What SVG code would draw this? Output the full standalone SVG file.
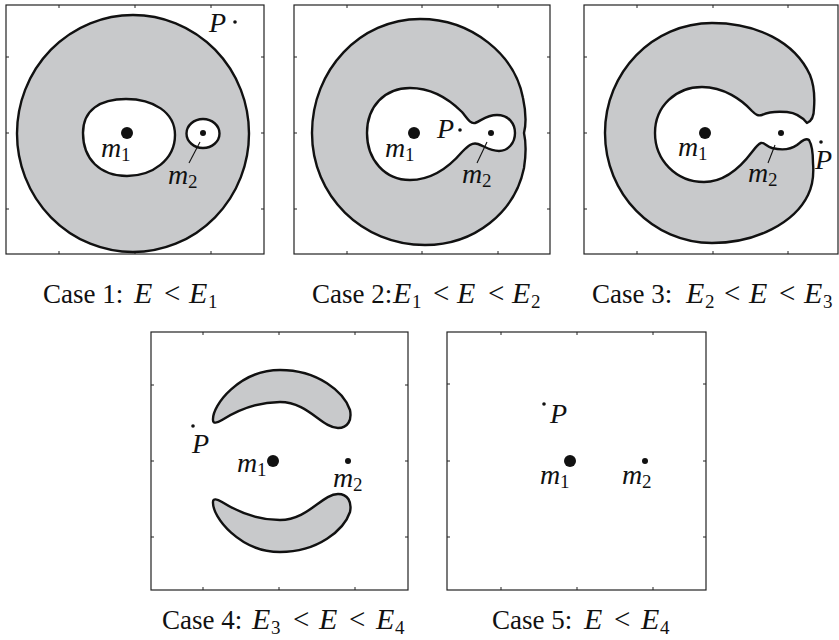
<svg xmlns="http://www.w3.org/2000/svg" width="839" height="640" viewBox="0 0 839 640" font-family="'Liberation Serif', 'DejaVu Serif', serif">
<style>
.box{fill:none;stroke:#222;stroke-width:1.2}
.tick{fill:none;stroke:#222;stroke-width:1}
.reg{fill:#c8c9cb;stroke:#111;stroke-width:2.4;stroke-linejoin:round;fill-rule:evenodd}
.big{fill:#111}
.lead{stroke:#111;stroke-width:1.1;fill:none}
text{font-family:'Liberation Serif','DejaVu Serif',serif;fill:#111}
.mi{font-style:italic;font-size:28px}
.ce{font-style:italic;font-size:30px}
.sub{font-size:19px;font-style:normal}
.cap{font-size:27px}
.rel{font-size:29px;font-style:normal}
</style>
<rect width="839" height="640" fill="#fff"/>

<g id="panel1">
<rect class="box" x="6" y="5" width="258" height="249"/>
<path class="tick" d="M59,5v3M135,5v3M211,5v3M59,254v-3M135,254v-3M211,254v-3M6,57h3M6,133h3M6,209h3M264,57h-3M264,133h-3M264,209h-3"/>
<path class="reg" d="M17,133.5 A116,118.5 0 1 0 249,133.5 A116,118.5 0 1 0 17,133.5 Z M83,133 C83,110 100,99 126,99 C153,99 175,112 175,135 C175,160 152,176 127,176 C100,176 83,159 83,133 Z M186.5,133.5 A16.5,14.5 0 1 0 219.5,133.5 A16.5,14.5 0 1 0 186.5,133.5 Z"/>
<circle class="big" cx="127" cy="133" r="6"/>
<circle class="big" cx="203" cy="133" r="3"/>
<circle class="big" cx="235" cy="22" r="1.8"/>
<text class="mi" x="209" y="32">P</text>
<text x="101" y="157"><tspan class="mi">m</tspan><tspan class="sub" x="121" y="161">1</tspan></text>
<text x="168" y="184"><tspan class="mi">m</tspan><tspan class="sub" x="188" y="188">2</tspan></text>
</g>

<g id="panel2">
<rect class="box" x="294" y="5" width="256" height="249"/>
<path class="tick" d="M347,5v3M422,5v3M498,5v3M347,254v-3M422,254v-3M498,254v-3M294,57h3M294,133h3M294,209h3M550,57h-3M550,133h-3M550,209h-3"/>
<path class="reg" d="M312,133 C312,70 360,19 420,19 C472,19 515,55 523,98 C526,112 526,125 524,133 C526,142 526,155 524,168 C515,212 475,245 425,245 C362,245 312,196 312,133 Z M367,133 C367,106 385,88 410,88 C432,88 450,100 462,112 C467,118 470,124 475,123 C481,121 486,115 497,115 C509,115 515,124 515,133 C515,143 508,151 499,151 C490,151 484,146 478,144 C472,142 468,146 462,152 C450,166 432,180 410,180 C385,180 367,160 367,133 Z"/>
<circle class="big" cx="414" cy="133" r="6"/>
<circle class="big" cx="491" cy="133" r="3"/>
<circle class="big" cx="460" cy="130" r="1.8"/>
<text class="mi" x="437" y="138">P</text>
<text x="385" y="157"><tspan class="mi">m</tspan><tspan class="sub" x="405" y="161">1</tspan></text>
<text x="462" y="183"><tspan class="mi">m</tspan><tspan class="sub" x="482" y="187">2</tspan></text>
</g>

<g id="panel3">
<rect class="box" x="584" y="5" width="254" height="249"/>
<path class="tick" d="M637,5v3M713,5v3M788,5v3M637,254v-3M713,254v-3M788,254v-3M584,57h3M584,133h3M584,209h3"/>
<path class="reg" d="M807,123 C812,121 814,116 814,108 C815,95 814,85 810,75 C795,42 757,23 712,23 C653,23 605,72 605,133 C605,194 653,243 712,243 C757,243 795,222 808,195 C813,185 814,175 813,163 C813,153 812,145 809,140 C806,138 803,140 797,145 C790,150 780,150 772,148 C766,146 764,142 761,143 C758,144 755,148 752,152 C740,168 724,182 704,182 C676,182 655,160 655,133 C655,106 676,87 702,87 C724,87 742,100 752,111 C756,115 758,116 762,115 C768,112 775,111 787,112 C797,113 803,118 807,123 Z"/>
<circle class="big" cx="705" cy="133" r="6"/>
<circle class="big" cx="781" cy="133" r="3"/>
<circle class="big" cx="821" cy="142" r="1.8"/>
<text class="mi" x="815" y="169">P</text>
<text x="678" y="156"><tspan class="mi">m</tspan><tspan class="sub" x="698" y="160">1</tspan></text>
<text x="748" y="182"><tspan class="mi">m</tspan><tspan class="sub" x="768" y="186">2</tspan></text>
</g>

<g id="panel4">
<rect class="box" x="151" y="332" width="257" height="258"/>
<path class="tick" d="M203,332v3M279,332v3M355,332v3M203,590v-3M279,590v-3M355,590v-3M151,385h3M151,461h3M151,537h3M408,385h-3M408,461h-3M408,537h-3"/>
<path class="reg" d="M213,420 C212,405 240,370 280,370 C318,370 344,392 350,410 C352,420 348,428 338,428 C322,428 308,402 280,402 C256,402 238,410 222,420 C217,423 213,424 213,420 Z"/>
<path class="reg" d="M213,502 C212,517 240,552 280,552 C318,552 344,530 350,512 C352,502 348,494 338,494 C322,494 308,520 280,520 C256,520 238,512 222,502 C217,499 213,498 213,502 Z"/>
<circle class="big" cx="273" cy="461" r="6"/>
<circle class="big" cx="348" cy="461" r="3"/>
<circle class="big" cx="193" cy="426" r="1.8"/>
<text class="mi" x="192" y="453">P</text>
<text x="237" y="472"><tspan class="mi">m</tspan><tspan class="sub" x="257" y="476">1</tspan></text>
<text x="333" y="487"><tspan class="mi">m</tspan><tspan class="sub" x="353" y="491">2</tspan></text>
</g>

<g id="panel5">
<rect class="box" x="447" y="332" width="259" height="258"/>
<path class="tick" d="M501,332v3M577,332v3M653,332v3M501,590v-3M577,590v-3M653,590v-3M447,384h3M447,461h3M447,537h3M706,384h-3M706,461h-3M706,537h-3"/>
<circle class="big" cx="570" cy="461" r="6"/>
<circle class="big" cx="645" cy="461" r="3"/>
<circle class="big" cx="544" cy="404" r="1.8"/>
<text class="mi" x="550" y="423">P</text>
<text x="540" y="484"><tspan class="mi">m</tspan><tspan class="sub" x="560" y="488">1</tspan></text>
<text x="622" y="484"><tspan class="mi">m</tspan><tspan class="sub" x="642" y="488">2</tspan></text>
</g>

<g id="connectors">
<path class="lead" d="M200,142L189,163"/>
<path class="lead" d="M487,142L477,163"/>
<path class="lead" d="M775,145L768,163"/>
</g>

<g id="captions">
<text class="cap" y="303"><tspan x="43">Case 1:</tspan><tspan class="ce" x="134">E</tspan><tspan class="rel" x="164">&lt;</tspan><tspan class="ce" x="189">E</tspan><tspan class="sub" x="208" y="308">1</tspan></text>
<text class="cap" y="303"><tspan x="312">Case 2:</tspan><tspan class="ce" x="393">E</tspan><tspan class="sub" x="412" y="308">1</tspan><tspan class="rel" x="433" y="303">&lt;</tspan><tspan class="ce" x="457">E</tspan><tspan class="rel" x="488">&lt;</tspan><tspan class="ce" x="512">E</tspan><tspan class="sub" x="531" y="308">2</tspan></text>
<text class="cap" y="303"><tspan x="592">Case 3:</tspan><tspan class="ce" x="686">E</tspan><tspan class="sub" x="705" y="308">2</tspan><tspan class="rel" x="724" y="303">&lt;</tspan><tspan class="ce" x="749">E</tspan><tspan class="rel" x="779">&lt;</tspan><tspan class="ce" x="804">E</tspan><tspan class="sub" x="823" y="308">3</tspan></text>
<text class="cap" y="629"><tspan x="162">Case 4:</tspan><tspan class="ce" x="252">E</tspan><tspan class="sub" x="271" y="634">3</tspan><tspan class="rel" x="293" y="629">&lt;</tspan><tspan class="ce" x="319">E</tspan><tspan class="rel" x="349">&lt;</tspan><tspan class="ce" x="376">E</tspan><tspan class="sub" x="395" y="634">4</tspan></text>
<text class="cap" y="629"><tspan x="492">Case 5:</tspan><tspan class="ce" x="584">E</tspan><tspan class="rel" x="614">&lt;</tspan><tspan class="ce" x="641">E</tspan><tspan class="sub" x="660" y="634">4</tspan></text>
</g>
</svg>
